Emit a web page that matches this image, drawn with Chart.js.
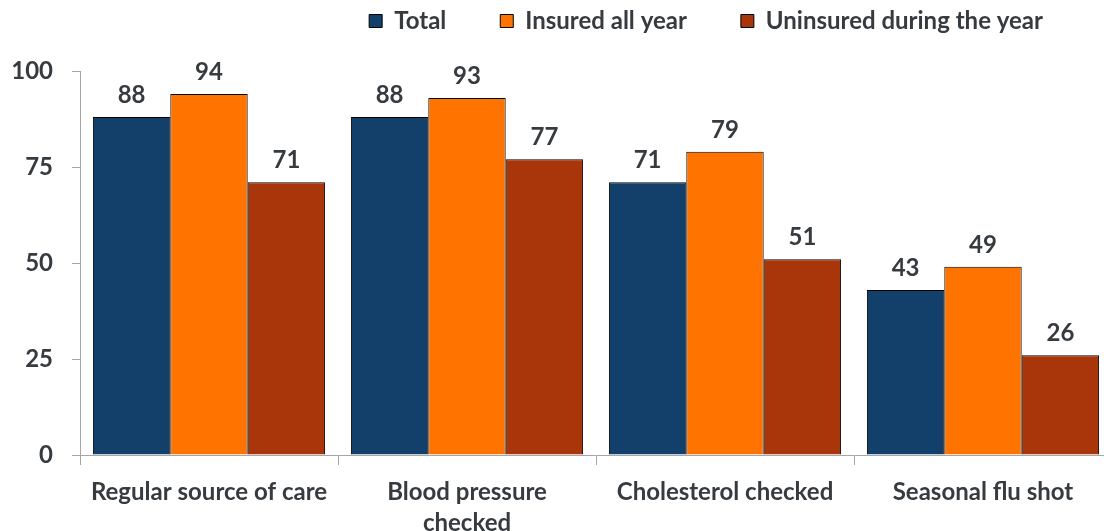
<!DOCTYPE html>
<html>
<head>
<meta charset="utf-8">
<script src="https://cdn.jsdelivr.net/npm/chart.js@4.4.1/dist/chart.umd.min.js"></script>
<style>
  html, body { margin: 0; padding: 0; overflow: hidden; background: #ffffff; }
  #wrap { width: 1112px; height: 531px; }
</style>
</head>
<body>
<div id="wrap"><canvas id="c" width="1112" height="531"></canvas></div>
<script>
const categories = [["Regular source of care"], ["Blood pressure", "checked"], ["Cholesterol checked"], ["Seasonal flu shot"]];
const seriesNames = ["Total", "Insured all year", "Uninsured during the year"];
const totalValues = [88, 88, 71, 43];
const insuredValues = [94, 93, 79, 49];
const uninsuredValues = [71, 77, 51, 26];
const yTicks = [0, 25, 50, 75, 100];

const textColor = "#363b40";
const fontFamily = "Lato, 'Open Sans', sans-serif";

const dataLabels = {
  id: "dataLabels",
  afterDatasetsDraw(chart) {
    const ctx = chart.ctx;
    ctx.save();
    ctx.font = "bold 24px " + fontFamily;
    ctx.fillStyle = textColor;
    ctx.textAlign = "center";
    ctx.textBaseline = "alphabetic";
    chart.data.datasets.forEach((ds, i) => {
      chart.getDatasetMeta(i).data.forEach((bar, j) => {
        ctx.fillText(String(ds.data[j]), bar.x, bar.y - 14);
      });
    });
    ctx.restore();
  }
};

const legendPlace = {
  id: "legendPlace",
  beforeLayout(chart) {
    const lg = chart.legend;
    if (lg && !lg._patched) {
      const fit = lg.fit;
      lg.fit = function () { fit.call(this); this.height = 71; };
      lg._patched = true;
    }
  },
  afterLayout(chart) {
    const lg = chart.legend;
    const pad = lg.options.labels.padding;
    lg.right = 1043 + pad;
    lg.left = lg.right - 1112;
    lg.top = 9 - pad;
  }
};

new Chart(document.getElementById("c"), {
  type: "bar",
  data: {
    labels: categories,
    datasets: [
      { label: seriesNames[0], data: totalValues, backgroundColor: "#12406a", borderColor: "#000000", borderWidth: 1 },
      { label: seriesNames[1], data: insuredValues, backgroundColor: "#ff7400", borderColor: "#000000", borderWidth: 1 },
      { label: seriesNames[2], data: uninsuredValues, backgroundColor: "#a9360a", borderColor: "#000000", borderWidth: 1 }
    ]
  },
  options: {
    responsive: false,
    animation: false,
    layout: { padding: 0 },
    datasets: { bar: { categoryPercentage: 0.9, barPercentage: 1.0 } },
    plugins: {
      legend: {
        position: "top",
        align: "end",
        labels: {
          boxWidth: 13,
          boxHeight: 13,
          padding: 54,
          color: textColor,
          font: { family: fontFamily, size: 24, weight: "bold" }
        }
      },
      tooltip: { enabled: false }
    },
    scales: {
      x: {
        offset: true,
        grid: { display: true, drawOnChartArea: false, offset: true, tickLength: 10, color: "#a6a6a6" },
        border: { display: true, color: "#a6a6a6", width: 1 },
        ticks: {
          color: textColor,
          padding: 12,
          maxRotation: 0,
          autoSkip: false,
          font: { family: fontFamily, size: 24, weight: "bold", lineHeight: 1.28 }
        },
        afterFit(scale) { scale.height = 76; }
      },
      y: {
        min: 0,
        max: 100,
        afterBuildTicks(scale) { scale.ticks = yTicks.map(v => ({ value: v })); },
        grid: { display: true, drawOnChartArea: false, tickLength: 8, color: "#a6a6a6" },
        border: { display: true, color: "#a6a6a6", width: 1 },
        ticks: {
          color: textColor,
          padding: 19,
          font: { family: fontFamily, size: 24, weight: "bold" }
        },
        afterFit(scale) { scale.width = 80; }
      }
    }
  },
  plugins: [dataLabels, legendPlace]
});
</script>
</body>
</html>
